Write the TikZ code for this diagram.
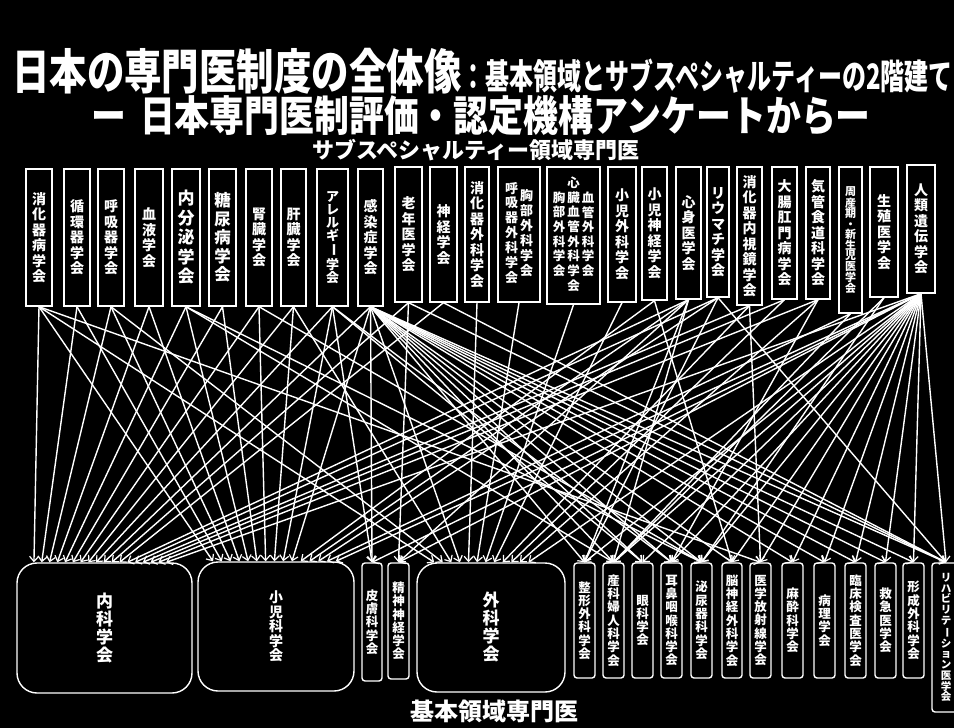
\documentclass[tikz,border=0pt]{standalone}
\usepackage{fontspec}
\newfontfamily\jp{Noto Sans CJK JP}
\usetikzlibrary{arrows.meta,calc}
\newcommand\vbar{\rotatebox[origin=c]{-90}{ー}}
\newcommand\mybox[7]{\node[#1, minimum width={(#4)-(#3)}, minimum height={(#6)-(#5)}] (#2) at ({((#3)+(#4))/2},{((#5)+(#6))/2}) {#7};}
\newcommand\col[1]{\begin{tabular}[c]{@{}c@{}}#1\end{tabular}}
\begin{document}
\begin{tikzpicture}[x=1pt,y=-1pt,
  tbox/.style={draw=white, line width=1.4pt, fill=black, text=white, inner sep=0pt, align=center,
    font=\jp\bfseries\fontsize{14}{15.5}\selectfont},
  bbig/.style={draw=white, line width=1.4pt, fill=black, text=white, inner sep=0pt, align=center,
    rounded corners=20pt, font=\jp\bfseries\fontsize{17}{18}\selectfont},
  bsmall/.style={draw=white, line width=1.4pt, fill=black, text=white, inner sep=0pt, align=center,
    rounded corners=3pt, font=\jp\bfseries\fontsize{12.5}{13.3}\selectfont},
  conn/.style={draw=white, line width=1.4pt, -{Straight Barb[length=5pt,width=9pt,line width=1.2pt]}},
  lbl/.style={text=white, inner sep=0pt}
]
\fill[black] (0,0) rectangle (954,728);
\useasboundingbox (0,0) rectangle (954,728);

% titles
\node[lbl, anchor=base west, font=\jp\bfseries\fontsize{48}{48}\selectfont] (title) at (12,89)
  {\scalebox{0.78}[1]{日本の専門医制度の全体像}};
\node[lbl, anchor=base west, font=\jp\bfseries\fontsize{35}{35}\selectfont] (title2) at (title.base east)
  {\scalebox{0.685}[1]{：基本領域とサブスペシャルティーの2階建て}};
\node[lbl, anchor=base, font=\jp\bfseries\fontsize{42}{42}\selectfont] (title3) at (481,131)
  {\scalebox{0.83}[1]{ー\hspace{0.4em}日本専門医制評価・認定機構アンケートからー}};
\node[lbl, font=\jp\bfseries\fontsize{22}{22}\selectfont] (subhead) at (476,150) {サブスペシャルティー領域専門医};
\node[lbl, font=\jp\bfseries\fontsize{24}{24}\selectfont] (basehead) at (494,711) {基本領域専門医};

% top boxes
\mybox{tbox}{t1}{26}{52}{169}{306}{消\\化\\器\\病\\学\\会}
\mybox{tbox}{t2}{64}{90}{169}{306}{循\\環\\器\\学\\会}
\mybox{tbox}{t3}{98}{124}{169}{306}{呼\\吸\\器\\学\\会}
\mybox{tbox}{t4}{135}{163}{169}{306}{血\\液\\学\\会}
\mybox{tbox, font=\jp\bfseries\fontsize{17}{19.5}\selectfont}{t5}{172}{200}{169}{306}{内\\分\\泌\\学\\会}
\mybox{tbox, font=\jp\bfseries\fontsize{16.5}{18.5}\selectfont}{t6}{209}{236}{169}{306}{糖\\尿\\病\\学\\会}
\mybox{tbox}{t7}{246}{272}{169}{306}{腎\\臓\\学\\会}
\mybox{tbox}{t8}{281}{306}{169}{306}{肝\\臓\\学\\会}
\mybox{tbox, font=\jp\bfseries\fontsize{13}{13}\selectfont}{t9}{317}{348}{169}{306}{ア\\レ\\ル\\ギ\\\vbar\\学\\会}
\mybox{tbox}{t10}{358}{383}{169}{306}{感\\染\\症\\学\\会}
\mybox{tbox}{t11}{395}{422}{167}{302}{老\\年\\医\\学\\会}
\mybox{tbox}{t12}{430}{457}{167}{302}{神\\経\\学\\会}
\mybox{tbox}{t13}{465}{489}{167}{302}{消\\化\\器\\外\\科\\学\\会}
\mybox{tbox, font=\jp\bfseries\fontsize{13}{13.2}\selectfont}{t14}{498}{540}{167}{302}{\begin{tabular}{@{}c@{\hspace{2pt}}c@{}}\col{呼\\吸\\器\\外\\科\\学\\会}&\col{胸\\部\\外\\科\\学\\会}\end{tabular}}
\mybox{tbox, font=\jp\bfseries\fontsize{12.5}{13}\selectfont}{t15}{547}{600}{167}{304}{\begin{tabular}{@{}c@{\hspace{2pt}}c@{\hspace{2pt}}c@{}}\col{胸\\部\\外\\科\\学\\会}&\col{心\\臓\\血\\管\\外\\科\\学\\会}&\col{血\\管\\外\\科\\学\\会}\end{tabular}}
\mybox{tbox}{t16}{608}{636}{167}{302}{小\\児\\外\\科\\学\\会}
\mybox{tbox}{t17}{642}{667}{167}{300}{小\\児\\神\\経\\学\\会}
\mybox{tbox}{t18}{676}{701}{167}{299}{心\\身\\医\\学\\会}
\mybox{tbox}{t19}{707}{729}{167}{297}{リ\\ウ\\マ\\チ\\学\\会}
\mybox{tbox}{t20}{737}{762}{167}{305}{消\\化\\器\\内\\視\\鏡\\学\\会}
\mybox{tbox}{t21}{772}{797}{167}{299}{大\\腸\\肛\\門\\病\\学\\会}
\mybox{tbox}{t22}{806}{830}{167}{299}{気\\管\\食\\道\\科\\学\\会}
\mybox{tbox, font=\jp\bfseries\fontsize{11}{10.5}\selectfont}{t23}{839}{862}{167}{313}{周\\産\\期\\・\\新\\生\\児\\医\\学\\会}
\mybox{tbox}{t24}{870}{898}{167}{297}{生\\殖\\医\\学\\会}
\mybox{tbox}{t25}{907}{935}{165}{293}{人\\類\\遺\\伝\\学\\会}

% bottom boxes
\mybox{bbig}{nai}{17}{192}{563}{693}{内\\科\\学\\会}
\mybox{bbig, font=\jp\bfseries\fontsize{14}{14.5}\selectfont}{sho}{198}{354}{562}{691}{小\\児\\科\\学\\会}
\mybox{bsmall}{hifu}{362}{382}{563}{681}{皮\\膚\\科\\学\\会}
\mybox{bsmall}{seishin}{388}{409}{563}{679}{精\\神\\神\\経\\学\\会}
\mybox{bbig}{geka}{417}{565}{563}{692}{外\\科\\学\\会}
\mybox{bsmall}{seikei}{574}{595}{563}{678}{整\\形\\外\\科\\学\\会}
\mybox{bsmall}{sanfu}{603}{624}{563}{678}{産\\科\\婦\\人\\科\\学\\会}
\mybox{bsmall}{gan}{632}{653}{563}{678}{眼\\科\\学\\会}
\mybox{bsmall}{jibi}{661}{682}{563}{678}{耳\\鼻\\咽\\喉\\科\\学\\会}
\mybox{bsmall}{hinyo}{691}{712}{563}{678}{泌\\尿\\器\\科\\学\\会}
\mybox{bsmall}{noge}{722}{742}{563}{678}{脳\\神\\経\\外\\科\\学\\会}
\mybox{bsmall}{hosha}{750}{771}{563}{678}{医\\学\\放\\射\\線\\学\\会}
\mybox{bsmall}{masui}{782}{803}{563}{678}{麻\\酔\\科\\学\\会}
\mybox{bsmall}{byori}{814}{835}{563}{678}{病\\理\\学\\会}
\mybox{bsmall}{rinsho}{845}{866}{563}{678}{臨\\床\\検\\査\\医\\学\\会}
\mybox{bsmall}{kyukyu}{875}{896}{563}{678}{救\\急\\医\\学\\会}
\mybox{bsmall}{keisei}{903}{924}{563}{678}{形\\成\\外\\科\\学\\会}
\mybox{bsmall, font=\jp\bfseries\fontsize{10.5}{10.7}\selectfont}{riha}{932}{960}{563}{712}{リ\\ハ\\ビ\\リ\\テ\\\vbar\\シ\\ョ\\ン\\医\\学\\会}

% connectors to the three large boxes (arrow points spread along the top edge)
\foreach \s [count=\i from 0] in {t1,t2,t3,t4,t5,t6,t7,t8,t9,t10,t11,t12,t18,t19,t20,t21,t22,t25}
  \draw[conn] (\s.south) -- ($(nai.north west)!{0.10+\i*0.0441}!(nai.north east)$);
\foreach \s [count=\i from 0] in {t1,t2,t3,t4,t5,t6,t7,t8,t9,t10,t17,t18,t19,t23,t25}
  \draw[conn] (\s.south) -- ($(sho.north west)!{0.10+\i*0.0557}!(sho.north east)$);
\foreach \s [count=\i from 0] in {t1,t3,t8,t10,t13,t14,t15,t16,t20,t21,t22,t25}
  \draw[conn] (\s.south) -- ($(geka.north west)!{0.12+\i*0.0573}!(geka.north east)$);

% connectors to the small boxes
\foreach \s/\d in {t9/hifu,t10/hifu,t25/hifu,
  t11/seishin,t18/seishin,t25/seishin,
  t10/seikei,t18/seikei,t19/seikei,t25/seikei,
  t5/sanfu,t10/sanfu,t18/sanfu,t23/sanfu,t24/sanfu,t25/sanfu,
  t9/gan,t10/gan,t25/gan,
  t9/jibi,t10/jibi,t22/jibi,t25/jibi,
  t5/hinyo,t7/hinyo,t10/hinyo,t24/hinyo,t25/hinyo,
  t10/noge,t17/noge,t25/noge,
  t1/hosha,t20/hosha,t25/hosha,
  t10/masui,t25/masui,
  t10/byori,t25/byori,
  t10/rinsho,t25/rinsho,
  t10/kyukyu,t25/kyukyu,
  t10/keisei,t25/keisei,
  t10/riha,t11/riha,t12/riha,t19/riha,t25/riha}
  \draw[conn] (\s.south) -- (\d.north);
\end{tikzpicture}
\end{document}
